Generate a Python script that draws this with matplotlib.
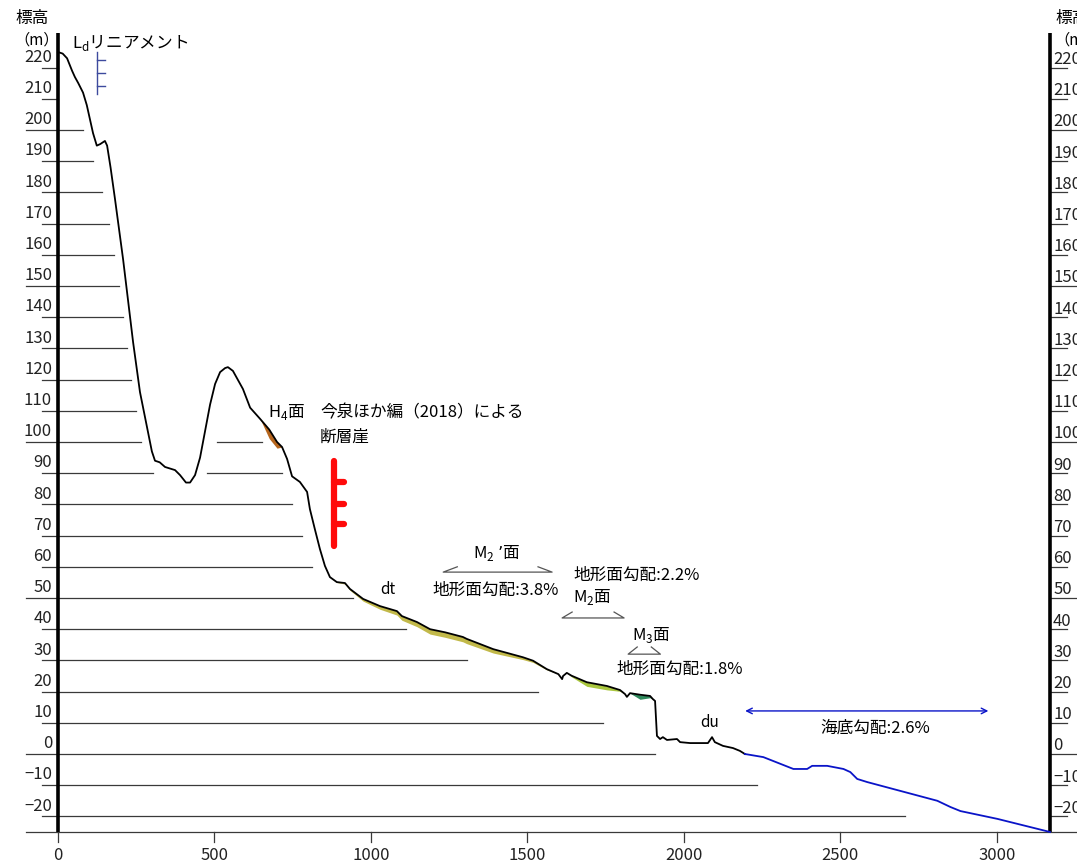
import numpy as np
import matplotlib.pyplot as plt

plt.rcParams['font.family'] = ['Noto Sans CJK JP', 'DejaVu Sans']

# 陸上部の地形断面（距離 m, 標高 m）
land_x = [0, 15, 29, 45, 54, 65, 80, 92, 102, 112, 124, 135, 150, 157, 168, 182,
          208, 240, 262, 284, 300, 310, 325, 342, 374, 390, 409, 422, 438, 454,
          470, 486, 502, 518, 534, 543, 559, 591, 614, 646, 675, 700, 716, 732,
          748, 773, 796, 805, 821, 837, 853, 869, 891, 917, 933, 975, 1029, 1083,
          1099, 1147, 1189, 1237, 1294, 1306, 1391, 1486, 1518, 1562, 1599, 1611,
          1614, 1626, 1641, 1690, 1754, 1796, 1812, 1818, 1828, 1860, 1892, 1901,
          1908, 1914, 1924, 1933, 1946, 1978, 1988, 2020, 2052, 2077, 2090, 2099,
          2125, 2157, 2179, 2195]
land_y = [225, 224.5, 223, 219, 217, 215, 212, 208, 203.5, 199, 195, 195.5, 196.5,
          195, 188, 178, 158.6, 132, 116, 105, 97, 94, 93.5, 92, 91, 89.4, 87, 87,
          89.4, 95, 103.5, 112, 118.6, 122.4, 123.7, 124, 122.8, 117, 111, 107.4,
          104, 100, 98.4, 94.6, 89, 87.2, 84, 78.5, 72, 65.7, 60.3, 56.7, 55.1,
          54.8, 52.9, 49.7, 47.4, 45.8, 44.2, 42.3, 40, 39, 37.5, 36.9, 33.6, 31,
          29.9, 27.2, 25.6, 24, 25, 26, 25.1, 23, 21.8, 20.5, 19.2, 18.3, 19.5, 19,
          18.6, 17.6, 17, 5.8, 4.8, 5.4, 4.5, 4.8, 3.8, 3.5, 3.5, 3.5, 5.4, 3.8,
          2.6, 1.9, 1, 0]

# 海底部
sea_x = [2195, 2254, 2350, 2394, 2410, 2458, 2510, 2532, 2554, 2586, 2810, 2852,
         2884, 3002, 3170]
sea_y = [0, -1, -4.8, -4.8, -3.8, -3.8, -4.8, -5.8, -8, -9, -15, -17, -18.3,
         -20.8, -25]

# 段丘面の範囲（距離 m）
surf_names = ['H4', "M2'", 'M2', 'M3']
surf_start = [646, 869, 1626, 1828]
surf_end = [716, 1599, 1812, 1901]
surf_colors = ['#b5651d', '#c2b94a', '#a9c63e', '#2f8a5c']

# 標高線
levels = [220, 210, 200, 190, 180, 170, 160, 150, 140, 130, 120, 110, 100, 90,
          80, 70, 60, 50, 40, 30, 20, 10, 0, -10, -20]
level_end = [0, 0, 80, 112, 141, 163, 179, 195, 207, 219, 233, 248, 264, 303,
             748, 780, 812, 943, 1113, 1308, 1535, 1742, 1909, 2235, 2708]
inner_levels = [100, 90]
inner_start = [508, 476]
inner_end = [652, 716]

xticks = [0, 500, 1000, 1500, 2000, 2500, 3000]
x_max = 3170
y_bottom = -25
y_top = 231

fig = plt.figure(figsize=(10.77, 8.62), dpi=100)
ax = fig.add_axes([0, 0, 1, 1])
ax.set_xlim(-185.3, 3256.3)
ax.set_ylim(-34.3, 242.0)
ax.axis('off')

line_c = '#3a3a3a'

# 標高線と目盛
for lv, xe in zip(levels, level_end):
    x0 = -102 if lv % 50 == 0 else -51
    ax.plot([x0, max(xe, 0)], [lv, lv], color=line_c, lw=0.9)
    ax.text(-19, lv + 0.9, str(lv).replace('-', '−'), ha='right', va='bottom',
            fontsize=12, color='#222222')
    x1 = 3260 if lv % 50 == 0 else 3224
    ax.plot([x_max, x1], [lv, lv], color=line_c, lw=0.9, clip_on=False)
    ax.text(3180, lv + 0.2, str(lv).replace('-', '−'), ha='left', va='bottom',
            fontsize=12, color='#222222', clip_on=False)
for lv, xs, xe in zip(inner_levels, inner_start, inner_end):
    ax.plot([xs, xe], [lv, lv], color=line_c, lw=0.9)

# 軸
ax.plot([-102, 3260], [y_bottom, y_bottom], color=line_c, lw=0.9)
for xt in xticks:
    ax.plot([xt, xt], [y_bottom, y_bottom - 3.2], color=line_c, lw=0.9)
    ax.text(xt, -32.1, str(xt), ha='center', va='center', fontsize=12,
            color='#222222')
ax.plot([0, 0], [y_bottom, y_top], color='black', lw=2.6, solid_capstyle='butt')
ax.plot([x_max, x_max], [y_bottom, y_top], color='black', lw=2.6,
        solid_capstyle='butt')

ax.text(-137, 236.2, '標高', ha='left', va='center', fontsize=12)
ax.text(-140, 229.2, '（m）', ha='left', va='center', fontsize=11)
ax.text(3186, 236.2, '標高', ha='left', va='center', fontsize=12)
ax.text(3183, 229.2, '（m）', ha='left', va='center', fontsize=11)

# 段丘面の着色
lx = np.array(land_x, dtype=float)
ly = np.array(land_y, dtype=float)
for xs, xe, c, depth in zip(surf_start, surf_end, surf_colors,
                            [3.0, 1.6, 1.5, 1.5]):
    m = (lx >= xs) & (lx <= xe)
    t = (lx[m] - xs) / (xe - xs)
    ax.fill_between(lx[m], ly[m], ly[m] - depth * np.sin(np.pi * t),
                    color=c, lw=0)

# 地形断面
ax.plot(land_x, land_y, color='black', lw=1.3)
ax.plot(sea_x, sea_y, color='#0a14c8', lw=1.3)

# Ldリニアメント
ax.text(45, 228.2, 'L$_\\mathregular{d}$リニアメント', ha='left', va='center',
        fontsize=12)
ld_c = '#3d4a9e'
ax.plot([125, 125], [225, 211.5], color=ld_c, lw=1)
for yy in [222.4, 218.3, 214.1]:
    ax.plot([125, 150], [yy, yy], color=ld_c, lw=1)

# 断層崖
ax.text(671, 110, 'H$_\\mathregular{4}$面', ha='left', va='center', fontsize=12)
ax.text(837, 109.6, '今泉ほか編（2018）による', ha='left', va='center',
        fontsize=12)
ax.text(837, 101.9, '断層崖', ha='left', va='center', fontsize=12)
ax.plot([882, 882], [94, 66.7], color='#ff0a0a', lw=4.5, solid_capstyle='round')
for yy in [87.2, 80.1, 73.7]:
    ax.plot([882, 915], [yy, yy], color='#ff0a0a', lw=4.5,
            solid_capstyle='round')

# 段丘面の範囲と勾配
brackets = [(1231, 1579, 58.3, 60.0, 45), (1611, 1809, 43.6, 45.5, 32),
            (1822, 1925, 32.0, 34.3, 29)]
for xa, xb, yb, yt, dx in brackets:
    ax.plot([xa + dx, xa, xb, xb - dx], [yt, yb, yb, yt], color='#555555',
            lw=0.9)

ax.text(1403, 64.7, 'M$_\\mathregular{2}$ ’面', ha='center', va='center',
        fontsize=12)
ax.text(1400, 52.9, '地形面勾配:3.8%', ha='center', va='center', fontsize=12)
ax.text(1646, 57.7, '地形面勾配:2.2%', ha='left', va='center', fontsize=12)
ax.text(1646, 50.6, 'M$_\\mathregular{2}$面', ha='left', va='center', fontsize=12)
ax.text(1834, 38.5, 'M$_\\mathregular{3}$面', ha='left', va='center', fontsize=12)
ax.text(1786, 27.6, '地形面勾配:1.8%', ha='left', va='center', fontsize=12)
ax.text(1055, 52.9, 'dt', ha='center', va='center', fontsize=11)
ax.text(2083, 10.3, 'du', ha='center', va='center', fontsize=11)

# 海底勾配
ax.annotate('', xy=(2196, 13.8), xytext=(2973, 13.8),
            arrowprops=dict(arrowstyle='<->', color='#0a14c8', lw=1,
                            shrinkA=0, shrinkB=0))
ax.text(2611, 8.7, '海底勾配:2.6%', ha='center', va='center', fontsize=12)

fig.savefig('out.png', dpi=100)
